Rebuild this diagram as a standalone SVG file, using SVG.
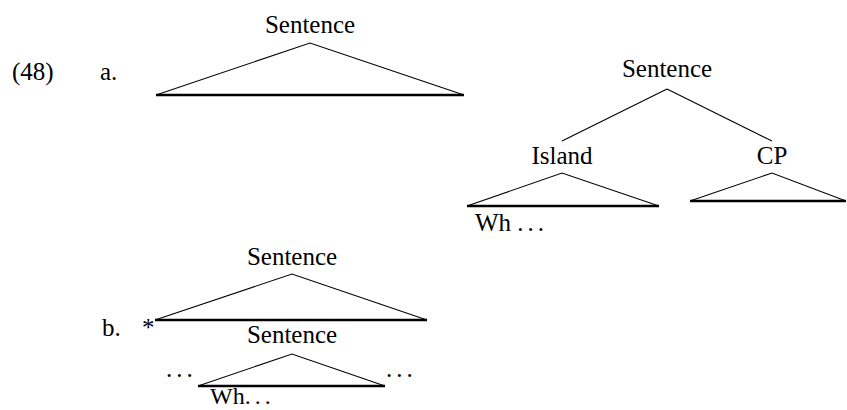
<svg xmlns="http://www.w3.org/2000/svg" width="847" height="410" viewBox="0 0 847 410" font-family="Liberation Serif, Times New Roman, serif" font-size="25">
  <style>
    .c { text-anchor: middle; }
    .side { fill: none; stroke: #000; stroke-width: 1.1; }
    .base { fill: none; stroke: #000; stroke-width: 2.4; }
    .edge { fill: none; stroke: #000; stroke-width: 1.1; }
    .dots { letter-spacing: 4px; }
  </style>

  <!-- example number and labels -->
  <g id="labels">
    <text x="12" y="80">(48)</text>
    <text x="100" y="80">a.</text>
    <text x="102" y="336">b.</text>
    <text x="142" y="336">*</text>
  </g>

  <!-- (a) left: a single sentence triangle -->
  <g id="a-sentence">
    <text class="c" x="310" y="33">Sentence</text>
    <polyline class="side" points="156,95 310,43 464,95"/>
    <line class="base" x1="156" y1="95" x2="464" y2="95"/>
  </g>

  <!-- (a) right: sentence with island and CP daughters -->
  <g id="a2-sentence">
    <text class="c" x="667" y="77">Sentence</text>
  </g>

  <g id="island">
    <text class="c" x="562" y="164">Island</text>
    <polyline class="side" points="467,206 562,173 659,206"/>
    <line class="base" x1="467" y1="206" x2="659" y2="206"/>
    <text x="475" y="231">Wh <tspan class="dots">...</tspan></text>
  </g>

  <g id="cp">
    <text class="c" x="772" y="164">CP</text>
    <polyline class="side" points="690,201 772,173 846,201"/>
    <line class="base" x1="690" y1="201" x2="846" y2="201"/>
  </g>

  <g id="connectors">
    <line class="edge" x1="667" y1="89" x2="562" y2="141"/>
    <line class="edge" x1="667" y1="89" x2="772" y2="141"/>
  </g>

  <!-- (b): outer sentence over an embedded sentence -->
  <g id="b-sentence">
    <text class="c" x="292" y="265">Sentence</text>
    <polyline class="side" points="155,320 292,274 427,320"/>
    <line class="base" x1="155" y1="320" x2="427" y2="320"/>
  </g>

  <g id="b-inner-sentence">
    <text class="c" x="292" y="343">Sentence</text>
    <polyline class="side" points="198,386 292,354 385,386"/>
    <line class="base" x1="198" y1="386" x2="385" y2="386"/>
    <text class="dots" x="166" y="377">...</text>
    <text class="dots" x="386" y="377">...</text>
    <text x="210" y="404" font-size="24">Wh<tspan class="dots">...</tspan></text>
  </g>
</svg>
